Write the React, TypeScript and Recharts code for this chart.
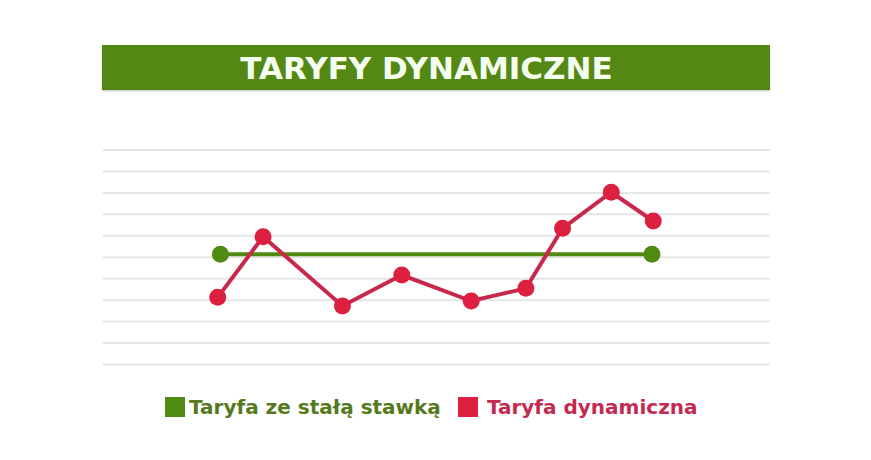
import React from "react";
import { LineChart, Line, XAxis, YAxis, CartesianGrid } from "recharts";

const title = "TARYFY DYNAMICZNE";
const fixedLabel = "Taryfa ze stałą stawką";
const dynamicLabel = "Taryfa dynamiczna";

// x positions (relative time, 0-100) and price levels (0-10)
const fixedX = [17.6, 82.3];
const fixedY = [5.14, 5.14];
const dynamicX = [17.2, 24.0, 35.9, 44.8, 55.2, 63.4, 68.9, 76.2, 82.5];
const dynamicY = [3.13, 5.96, 2.73, 4.17, 2.96, 3.55, 6.35, 8.03, 6.69];
const yTicks = [0, 1, 2, 3, 4, 5, 6, 7, 8, 9, 10];

const fixedData = fixedX.map((x, i) => ({ x, y: fixedY[i] }));
const dynamicData = dynamicX.map((x, i) => ({ x, y: dynamicY[i] }));

const GREEN = "#4f8a12";
const RED_LINE = "#c8284c";
const RED_DOT = "#dd1f40";

export default function App() {
  return (
    <div
      style={{
        position: "absolute",
        left: 0,
        top: 0,
        width: 871,
        height: 460,
        background: "#ffffff",
        fontFamily: "'DejaVu Sans', sans-serif",
      }}
    >
      <LineChart
        width={871}
        height={460}
        margin={{ top: 150, right: 101, bottom: 95.5, left: 103 }}
      >
        <CartesianGrid
          horizontal
          vertical={false}
          stroke="#e6e6e6"
          strokeWidth={2}
        />
        <XAxis type="number" dataKey="x" domain={[0, 100]} hide />
        <YAxis
          type="number"
          domain={[0, 10]}
          ticks={yTicks}
          tickCount={11}
          interval={0}
          hide
        />
        <Line
          data={fixedData}
          dataKey="y"
          stroke={GREEN}
          strokeWidth={4}
          dot={{ r: 8.5, fill: GREEN, stroke: GREEN, strokeWidth: 0 }}
          isAnimationActive={false}
        />
        <Line
          data={dynamicData}
          dataKey="y"
          stroke={RED_LINE}
          strokeWidth={4}
          dot={{ r: 8.5, fill: RED_DOT, stroke: RED_DOT, strokeWidth: 0 }}
          isAnimationActive={false}
        />
      </LineChart>
      <div
        style={{
          position: "absolute",
          left: 102,
          top: 45,
          width: 668,
          height: 45,
          boxSizing: "border-box",
          paddingRight: 19,
          background: "#548814",
          color: "#f4fff0",
          fontWeight: "bold",
          fontSize: 31,
          fontFamily: "'DejaVu Sans', sans-serif",
          display: "flex",
          alignItems: "center",
          justifyContent: "center",
          boxShadow: "0 1px 2px rgba(0,0,0,0.25)",
        }}
      >
        {title}
      </div>
      <div
        style={{
          position: "absolute",
          left: 165,
          top: 395,
          display: "flex",
          alignItems: "center",
          fontWeight: "bold",
          fontSize: 20,
          whiteSpace: "nowrap",
        }}
      >
        <span style={{ display: "inline-block", width: 20, height: 20, background: GREEN, marginRight: 4 }} />
        <span style={{ color: "#557a1c" }}>{fixedLabel}</span>
        <span style={{ display: "inline-block", width: 20, height: 20, background: RED_DOT, marginLeft: 17, marginRight: 9 }} />
        <span style={{ color: "#c42a50" }}>{dynamicLabel}</span>
      </div>
    </div>
  );
}
